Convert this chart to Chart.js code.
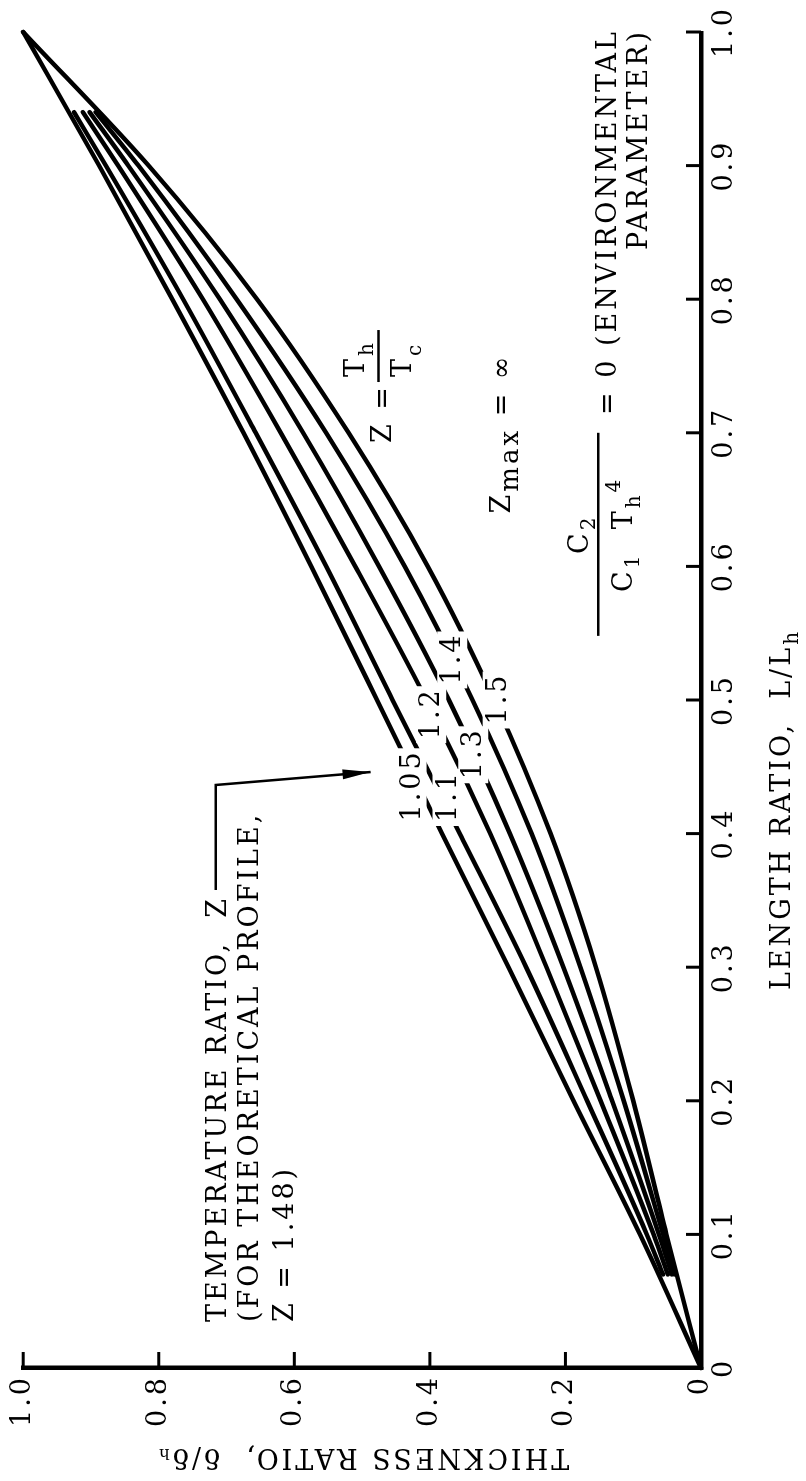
<!DOCTYPE html>
<html>
<head>
<meta charset="utf-8">
<script src="https://cdn.jsdelivr.net/npm/chart.js@4.4.0/dist/chart.umd.min.js"></script>
<style>
html, body { margin: 0; padding: 0; width: 806px; height: 1481px; overflow: hidden; background: #fff; }
#giro { position: absolute; left: 0; top: 0; width: 1481px; height: 806px; transform-origin: 0 0; transform: translate(0, 1481px) rotate(-90deg); }
</style>
</head>
<body>
<div id="giro"><canvas id="grafica" width="1481" height="806"></canvas></div>
<script>
// valores (L/Lh contra delta/delta_h)
var razon_longitud = [0, 0.1, 0.2, 0.3, 0.4, 0.5, 0.6, 0.7, 0.8, 0.9, 1.0];
var razon_longitud_int = [0.07, 0.1, 0.2, 0.3, 0.4, 0.5, 0.6, 0.7, 0.8, 0.9, 0.94];

var espesor_105 = [0, 0.090, 0.188, 0.284, 0.382, 0.478, 0.575, 0.675, 0.780, 0.888, 1.0];
var espesor_11 = [0.056, 0.080, 0.168, 0.258, 0.356, 0.455, 0.553, 0.657, 0.764, 0.878, 0.925];
var espesor_12 = [0.049, 0.070, 0.148, 0.228, 0.311, 0.405, 0.510, 0.620, 0.735, 0.860, 0.912];
var espesor_13 = [0.043, 0.062, 0.131, 0.203, 0.282, 0.372, 0.475, 0.587, 0.710, 0.845, 0.902];
var espesor_14 = [0.039, 0.056, 0.114, 0.178, 0.250, 0.337, 0.437, 0.553, 0.685, 0.830, 0.893];
var espesor_15 = [0, 0.051, 0.100, 0.155, 0.222, 0.305, 0.403, 0.520, 0.655, 0.815, 1.0];

var etiquetas_z = ['1.05', '1.1', '1.2', '1.3', '1.4', '1.5'];
var ticks_longitud = [0, 0.1, 0.2, 0.3, 0.4, 0.5, 0.6, 0.7, 0.8, 0.9, 1.0];
var ticks_espesor = [0, 0.2, 0.4, 0.6, 0.8, 1.0];

var FUENTE = '"DejaVu Serif", "Liberation Serif", serif';

function puntos(xs, ys) {
    return xs.map(function (x, i) { return {x: x, y: ys[i]}; });
}

function curva(xs, ys) {
    return {
        data: puntos(xs, ys),
        showLine: true,
        borderColor: '#000',
        borderWidth: 4.5,
        pointRadius: 0,
        fill: false,
        cubicInterpolationMode: 'monotone',
        borderCapStyle: 'round',
        borderJoinStyle: 'round',
        clip: false
    };
}

// escribe texto con partes (subindices / superindices)
function texto(ctx, partes, x, y, alinear) {
    var ancho = 0;
    partes.forEach(function (p) {
        ctx.font = p[1] + 'px ' + FUENTE;
        ancho += ctx.measureText(p[0]).width;
    });
    var xi = x;
    if (alinear === 'right') xi = x - ancho;
    if (alinear === 'center') xi = x - ancho / 2;
    partes.forEach(function (p) {
        ctx.font = p[1] + 'px ' + FUENTE;
        ctx.fillText(p[0], xi, y + p[2]);
        xi += ctx.measureText(p[0]).width;
    });
    return xi;
}

var espaciado = {
    id: 'espaciado',
    beforeDraw: function (chart) {
        chart.ctx.letterSpacing = '3px';
    }
};

// marcas de los ejes hacia adentro
var marcas = {
    id: 'marcas',
    afterDraw: function (chart) {
        var ctx = chart.ctx;
        var xs = chart.scales.x, ys = chart.scales.y;
        var area = chart.chartArea;
        ctx.save();
        ctx.strokeStyle = '#000';
        ctx.lineWidth = 3;
        ticks_longitud.forEach(function (v) {
            if (v === 0) return;
            var p = xs.getPixelForValue(v);
            ctx.beginPath();
            ctx.moveTo(p, area.bottom);
            ctx.lineTo(p, area.bottom - 15);
            ctx.stroke();
        });
        ticks_espesor.forEach(function (v) {
            if (v === 0) return;
            var p = ys.getPixelForValue(v);
            ctx.beginPath();
            ctx.moveTo(area.left, p);
            ctx.lineTo(area.left + 16, p);
            ctx.stroke();
        });
        ctx.restore();
    }
};

var anotaciones = {
    id: 'anotaciones',
    afterDatasetsDraw: function (chart) {
        var ctx = chart.ctx;
        var xs = chart.scales.x, ys = chart.scales.y;
        function px(l) { return xs.getPixelForValue(l); }
        function py(d) { return ys.getPixelForValue(d); }

        ctx.save();
        ctx.letterSpacing = '3px';
        ctx.fillStyle = '#000';
        ctx.strokeStyle = '#000';

        // etiquetas de cada curva sobre fondo blanco
        var pos_etiquetas = [[0.435, 0.427], [0.427, 0.374], [0.489, 0.398], [0.459, 0.336], [0.530, 0.367], [0.500, 0.300]];
        ctx.font = '27px ' + FUENTE;
        ctx.textBaseline = 'middle';
        ctx.textAlign = 'left';
        etiquetas_z.forEach(function (t, i) {
            var cx = px(pos_etiquetas[i][0]), cy = py(pos_etiquetas[i][1]);
            var w = ctx.measureText(t).width - 3;
            ctx.fillStyle = '#fff';
            ctx.fillRect(cx - w / 2 - 4, cy - 15, w + 8, 30);
            ctx.fillStyle = '#000';
            ctx.fillText(t, cx - w / 2, cy + 1);
        });

        ctx.textBaseline = 'alphabetic';

        // TEMPERATURE RATIO, Z con flecha
        var fin = texto(ctx, [['TEMPERATURE RATIO,  Z', 27, 0]], px(0.0344), py(0.701), 'left');
        texto(ctx, [['(FOR THEORETICAL PROFILE,', 27, 0]], px(0.0344), py(0.654), 'left');
        texto(ctx, [['Z = 1.48)', 27, 0]], px(0.0344), py(0.602), 'left');
        var codoX = px(0.4364), codoY = py(0.7158);
        var puntaX = px(0.4461), puntaY = py(0.4875);
        ctx.lineWidth = 2.5;
        ctx.beginPath();
        ctx.moveTo(fin + 6, codoY);
        ctx.lineTo(codoX, codoY);
        ctx.lineTo(puntaX, puntaY);
        ctx.stroke();
        var ang = Math.atan2(puntaY - codoY, puntaX - codoX);
        ctx.beginPath();
        ctx.moveTo(puntaX, puntaY);
        ctx.lineTo(puntaX - 28 * Math.cos(ang) - 5 * Math.sin(ang), puntaY - 28 * Math.sin(ang) + 5 * Math.cos(ang));
        ctx.lineTo(puntaX - 28 * Math.cos(ang) + 5 * Math.sin(ang), puntaY - 28 * Math.sin(ang) - 5 * Math.cos(ang));
        ctx.closePath();
        ctx.fill();

        // Z = Th / Tc
        var bx = px(0.738), by = py(0.4757);
        texto(ctx, [['Z =', 27, 0]], bx - 61, by + 12, 'left');
        ctx.beginPath();
        ctx.moveTo(bx, by);
        ctx.lineTo(bx + 52, by);
        ctx.stroke();
        texto(ctx, [['T', 27, 0], ['h', 20, 9]], bx + 5, by - 15, 'left');
        texto(ctx, [['T', 27, 0], ['c', 20, 10]], bx + 5, by + 32, 'left');

        // Zmax = infinito
        texto(ctx, [['Z', 27, 0], ['max', 26, 8], [' = \u221e', 27, 0]], px(0.757) + 3, py(0.2813), 'right');

        // C2 / (C1 Th^4) = 0 (ENVIRONMENTAL PARAMETER)
        var fx1 = px(0.548), fx2 = px(0.700), fy = py(0.1517);
        ctx.beginPath();
        ctx.moveTo(fx1, fy);
        ctx.lineTo(fx2, fy);
        ctx.stroke();
        var fc = (fx1 + fx2) / 2;
        texto(ctx, [['C', 27, 0], ['2', 20, 7]], fc, fy - 10, 'center');
        texto(ctx, [['C', 27, 0], ['1', 20, 7], ['  T', 27, 0], ['h', 20, 8], ['4', 20, -12]], fc, fy + 34, 'center');
        texto(ctx, [['= 0 (ENVIRONMENTAL', 27, 0]], px(1.0) + 3, py(0.1252), 'right');
        texto(ctx, [['PARAMETER)', 27, 0]], px(1.0) + 3, py(0.0795), 'right');

        // titulo del eje de longitud (con subindice)
        var tb = chart.chartArea.bottom + 89;
        texto(ctx, [['LENGTH RATIO,  L/L', 27, 0], ['h', 20, 8]], px(0.418), tb, 'center');

        ctx.restore();
    }
};

var ctx = document.getElementById('grafica').getContext('2d');
var grafica = new Chart(ctx, {
    type: 'scatter',
    data: {
        datasets: [
            curva(razon_longitud, espesor_105),
            curva(razon_longitud_int, espesor_11),
            curva(razon_longitud_int, espesor_12),
            curva(razon_longitud_int, espesor_13),
            curva(razon_longitud_int, espesor_14),
            curva(razon_longitud, espesor_15)
        ]
    },
    options: {
        responsive: false,
        animation: false,
        events: [],
        layout: {padding: {left: 0, right: 32, top: 22, bottom: 0}},
        plugins: {legend: {display: false}, tooltip: {enabled: false}},
        scales: {
            x: {
                type: 'linear',
                position: 'bottom',
                min: 0,
                max: 1,
                afterFit: function (s) { s.height = 105; },
                afterBuildTicks: function (s) {
                    s.ticks = ticks_longitud.map(function (v) { return {value: v}; });
                },
                grid: {display: false, drawTicks: false},
                border: {display: true, color: '#000', width: 4.5},
                ticks: {
                    color: '#000',
                    font: {family: FUENTE, size: 27},
                    padding: 8,
                    maxRotation: 0,
                    autoSkip: false,
                    callback: function (v) { return v === 0 ? '0' : v.toFixed(1); }
                },
                title: {display: false}
            },
            y: {
                type: 'linear',
                position: 'left',
                min: 0,
                max: 1,
                afterFit: function (s) { s.width = 113; },
                afterBuildTicks: function (s) {
                    s.ticks = ticks_espesor.map(function (v) { return {value: v}; });
                },
                grid: {display: false, drawTicks: false},
                border: {display: true, color: '#000', width: 4.5},
                ticks: {
                    color: '#000',
                    font: {family: FUENTE, size: 27},
                    padding: 7,
                    callback: function (v) { return v === 0 ? '0' : v.toFixed(1); }
                },
                title: {
                    display: true,
                    text: 'THICKNESS RATIO,  \u03b4/\u03b4\u2095',
                    color: '#000',
                    font: {family: FUENTE, size: 27},
                    padding: {top: 9, bottom: 0}
                }
            }
        }
    },
    plugins: [espaciado, marcas, anotaciones]
});
</script>
</body>
</html>
